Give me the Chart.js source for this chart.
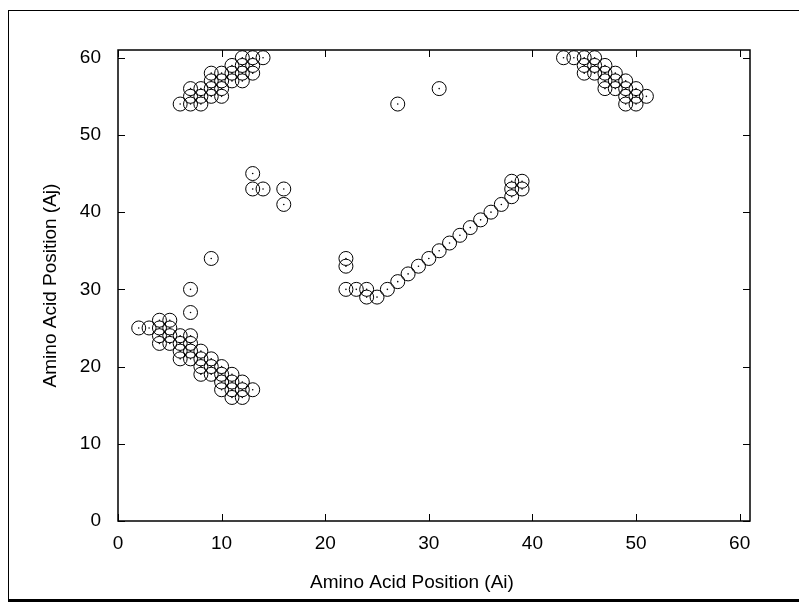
<!DOCTYPE html>
<html>
<head>
<meta charset="utf-8">
<script src="https://cdn.jsdelivr.net/npm/chart.js@4.4.1/dist/chart.umd.min.js"></script>
<style>
  html, body { margin: 0; padding: 0; background: #fff; }
  #wrap { position: relative; width: 799px; height: 607px; }
  #frame { position: absolute; left: 8px; top: 10px; width: 800px; height: 588px;
           border-left: 1.5px solid #000; border-top: 1.5px solid #000; border-bottom: 3px solid #000; }
  canvas { position: absolute; left: 0; top: 0; }
</style>
</head>
<body>
<div id="wrap">
  <div id="frame"></div>
  <canvas id="chart" width="799" height="607"></canvas>
</div>
<script>
// residue pairs (Ai, Aj)
const aiValues = [
  6, 7, 8, 7, 7, 8, 8, 9, 9, 9, 9, 10, 10, 10, 10, 11, 11, 11, 12, 12, 12, 12, 13, 13, 13, 14,
  2, 3, 4, 4, 4, 4, 5, 5, 5, 5, 6, 6, 6, 6, 7, 7, 7, 7, 7, 7, 8, 8, 8, 8, 9, 9, 9, 9,
  10, 10, 10, 10, 11, 11, 11, 11, 12, 12, 12, 13,
  13, 13, 14, 16, 16,
  22, 22, 22, 23, 24, 24, 25, 26, 27, 28, 29, 30, 31, 32, 33, 34, 35, 36, 37, 38, 38, 38, 39, 39,
  27, 31,
  43, 44, 45, 46, 45, 45, 46, 46, 47, 47, 47, 47, 48, 48, 48, 49, 49, 49, 49, 50, 50, 50, 51
];
const ajValues = [
  54, 54, 54, 55, 56, 55, 56, 55, 56, 57, 58, 55, 56, 57, 58, 57, 58, 59, 57, 58, 59, 60, 58, 59, 60, 60,
  25, 25, 26, 25, 24, 23, 26, 25, 24, 23, 24, 23, 22, 21, 30, 27, 24, 23, 22, 21, 22, 21, 20, 19, 34, 21, 20, 19,
  20, 19, 18, 17, 19, 18, 17, 16, 18, 17, 16, 17,
  45, 43, 43, 43, 41,
  34, 33, 30, 30, 30, 29, 29, 30, 31, 32, 33, 34, 35, 36, 37, 38, 39, 40, 41, 42, 43, 44, 43, 44,
  54, 56,
  60, 60, 60, 60, 59, 58, 59, 58, 59, 58, 57, 56, 58, 57, 56, 57, 56, 55, 54, 56, 55, 54, 55
];
const tickValues = [0, 10, 20, 30, 40, 50, 60];
const xTitle = 'Amino Acid Position (Ai)';
const yTitle = 'Amino Acid Position (Aj)';

const points = aiValues.map((x, i) => ({ x: x, y: ajValues[i] }));
const FONT = { family: '"Liberation Sans", Arial, sans-serif', size: 19 };

// inward tick marks on all four sides, the frame, and the x title (sits left of centre)
const frameTicks = {
  id: 'frameTicks',
  afterDraw(chart) {
    const ctx = chart.ctx;
    const a = chart.chartArea;
    const xs = chart.scales.x, ys = chart.scales.y;
    ctx.save();
    ctx.strokeStyle = '#000';
    ctx.lineWidth = 1;
    ctx.beginPath();
    tickValues.forEach(v => {
      const px = Math.round(xs.getPixelForValue(v)) + 0.5;
      ctx.moveTo(px, a.bottom); ctx.lineTo(px, a.bottom - 7);
      ctx.moveTo(px, a.top); ctx.lineTo(px, a.top + 7);
      const py = Math.round(ys.getPixelForValue(v)) + 0.5;
      ctx.moveTo(a.left, py); ctx.lineTo(a.left + 7, py);
      ctx.moveTo(a.right, py); ctx.lineTo(a.right - 7, py);
    });
    ctx.stroke();
    ctx.lineWidth = 1.5;
    ctx.strokeRect(a.left, a.top, a.right - a.left, a.bottom - a.top);

    ctx.fillStyle = '#000';
    ctx.font = FONT.size + 'px ' + FONT.family;
    ctx.textAlign = 'center';
    ctx.textBaseline = 'middle';
    ctx.fillText(xTitle, 412, 583);
    ctx.restore();
  }
};

new Chart(document.getElementById('chart'), {
  type: 'scatter',
  data: {
    datasets: [{
      data: points,
      pointRadius: 7,
      pointBorderWidth: 1,
      pointBorderColor: '#000',
      pointBackgroundColor: 'rgba(0,0,0,0)',
    }, {
      data: points,
      pointRadius: 0.8,
      pointBorderWidth: 0,
      pointBackgroundColor: '#000',
    }]
  },
  options: {
    responsive: false,
    animation: false,
    layout: { padding: { top: 50, right: 49, left: 36, bottom: 0 } },
    plugins: {
      legend: { display: false },
      tooltip: { enabled: false },
    },
    scales: {
      x: {
        type: 'linear',
        min: 0,
        max: 61,
        afterFit: s => { s.height = 86; },
        afterBuildTicks: s => { s.ticks = tickValues.map(v => ({ value: v })); },
        grid: { display: false, drawTicks: false },
        border: { display: false },
        ticks: { color: '#000', font: FONT, padding: 11, maxRotation: 0 },
        title: { display: false },
      },
      y: {
        type: 'linear',
        min: 0,
        max: 61,
        afterFit: s => { s.width = 82; },
        afterBuildTicks: s => { s.ticks = tickValues.map(v => ({ value: v })); },
        grid: { display: false, drawTicks: false },
        border: { display: false },
        ticks: { color: '#000', font: FONT, padding: 17 },
        title: { display: true, text: yTitle, color: '#000', font: FONT, padding: 3 },
      }
    }
  },
  plugins: [frameTicks]
});
</script>
</body>
</html>
